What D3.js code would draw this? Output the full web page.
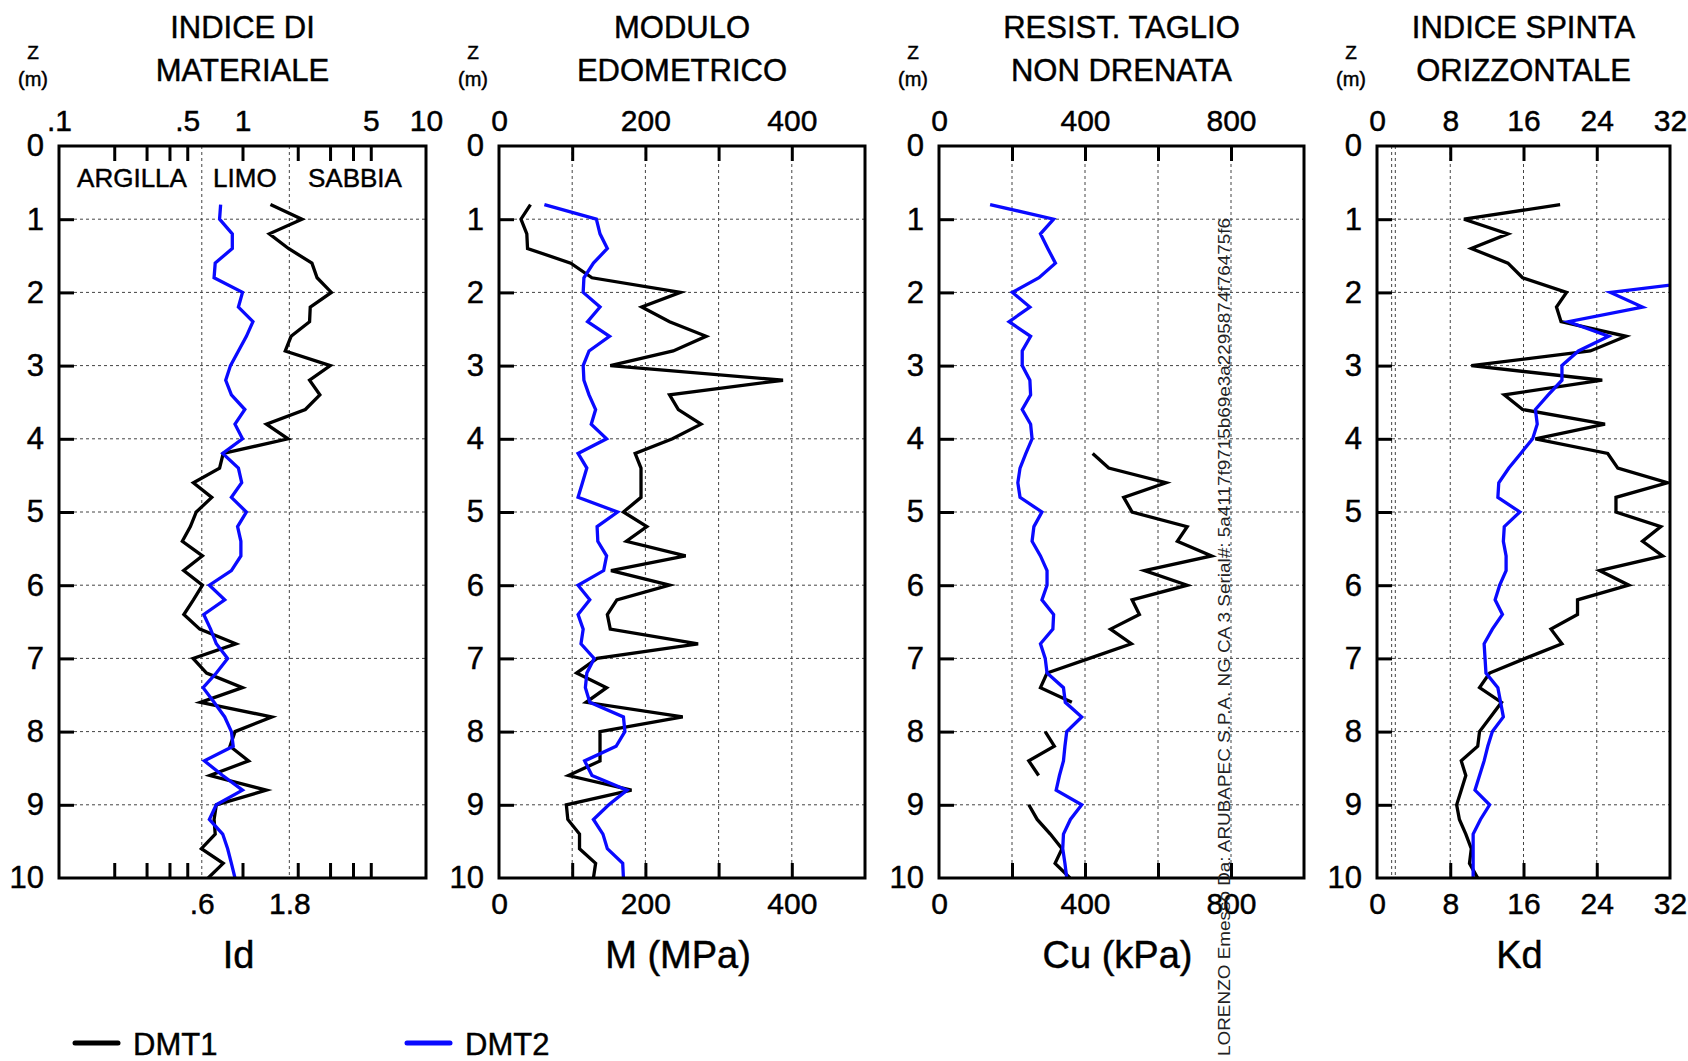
<!DOCTYPE html>
<html>
<head>
<meta charset="utf-8">
<script src="https://cdn.jsdelivr.net/npm/d3@7"></script>
<style>
  body { margin: 0; background: #fff; }
  svg { display: block; font-family: "Liberation Sans", Arial, sans-serif; }
  text { fill: #000; stroke: #000; stroke-width: 0.45px; }
  .grid { stroke: #444; stroke-width: 1; stroke-dasharray: 3 3; }
  .ticks line { stroke: #000; stroke-width: 3; }
</style>
</head>
<body>
<svg width="1688" height="1061"></svg>
<script>
// depth of each DMT reading (m)
const depth = [0.8, 1.0, 1.2, 1.4, 1.6, 1.8, 2.0, 2.2, 2.4, 2.6, 2.8, 3.0, 3.2, 3.4, 3.6, 3.8,
  4.0, 4.2, 4.4, 4.6, 4.8, 5.0, 5.2, 5.4, 5.6, 5.8, 6.0, 6.2, 6.4, 6.6, 6.8, 7.0, 7.2, 7.4,
  7.6, 7.8, 8.0, 8.2, 8.4, 8.6, 8.8, 9.0, 9.2, 9.4, 9.6, 9.8, 10.0];

// Id - indice di materiale
const idDmt1 = [1.42, 2.11, 1.40, 1.78, 2.39, 2.55, 3.05, 2.34, 2.32, 1.84, 1.71, 3.01, 2.32, 2.64, 2.20, 1.35,
  1.77, 0.785, 0.75, 0.54, 0.68, 0.56, 0.52, 0.47, 0.605, 0.478, 0.605, 0.54, 0.479, 0.585, 0.92, 0.538, 0.637, 1.0,
  0.59, 1.445, 0.91, 0.855, 1.08, 0.664, 1.35, 0.72, 0.70, 0.71, 0.597, 0.785, 0.65];
const idDmt2 = [0.76, 0.75, 0.88, 0.88, 0.71, 0.70, 1.0, 0.95, 1.14, 1.05, 0.95, 0.86, 0.81, 0.87, 1.03, 0.91,
  1.0, 0.78, 0.95, 0.99, 0.87, 1.05, 0.94, 0.98, 0.98, 0.87, 0.66, 0.80, 0.615, 0.67, 0.72, 0.83, 0.72, 0.61,
  0.70, 0.80, 0.87, 0.89, 0.62, 0.78, 1.0, 0.72, 0.66, 0.78, 0.83, 0.87, 0.91];

// M - modulo edometrico (MPa)
const mDmt1 = [43, 30, 38, 39, 98, 127, 248, 195, 233, 283, 238, 152, 388, 233, 245, 276,
  237, 186, 194, 194, 194, 170, 202, 174, 255, 153, 233, 161, 148, 152, 272, 134, 106, 147,
  119, 251, 138, 138, 138, 95, 181, 92, 94, 110, 110, 132, 129];
const mDmt2 = [62, 133, 138, 148, 129, 116, 115, 138, 121, 151, 123, 115, 116, 123, 132, 126,
  147, 108, 120, 114, 108, 162, 134, 135, 147, 143, 108, 124, 108, 115, 112, 130, 120, 118,
  124, 170, 172, 160, 117, 127, 175, 150, 129, 142, 148, 169, 170];

// Cu - resistenza al taglio non drenata (kPa), null = no value
const cuDmt1 = [null, null, null, null, null, null, null, null, null, null, null, null, null, null, null, null,
  null, 421, 465, 622, 506, 529, 680, 653, 747, 563, 680, 529, 549, 470, 527, 412, 296, 278,
  364, null, 291, 316, 246, 273, null, 246, 269, 305, 337, 318, 359];
const cuDmt2 = [140, 314, 278, 298, 319, 274, 201, 249, 192, 251, 228, 228, 249, 251, 228, 251,
  255, 238, 222, 216, 222, 282, 260, 255, 278, 296, 296, 282, 314, 312, 278, 291, 296, 341,
  346, 391, 350, 345, 341, 330, 321, 391, 360, 341, 339, 345, 350];

// Kd - indice di spinta orizzontale
const kdDmt1 = [20.0, 9.5, 14.3, 10.3, 14.3, 15.9, 20.7, 19.6, 20.1, 27.2, 23.3, 10.3, 24.6, 13.9, 15.9, 24.9,
  17.3, 25.2, 26.3, 31.7, 26.1, 26.1, 31.0, 29.0, 31.2, 24.3, 27.5, 21.9, 21.9, 19.0, 20.2, 16.2, 12.3, 11.2,
  13.6, 12.4, 11.2, 11.0, 9.2, 9.7, 9.2, 8.7, 9.0, 9.7, 10.3, 10.1, 11.0];
const kdDmt2 = [null, null, null, null, null, 38.5, 25.5, 29.0, 20.9, 25.3, 22.0, 20.2, 20.2, 18.7, 17.3, 17.5,
  17.0, 15.7, 14.4, 13.3, 13.2, 15.6, 13.9, 13.8, 14.1, 14.1, 13.4, 12.9, 13.7, 12.6, 11.7, 11.8, 11.9, 13.2,
  13.5, 13.8, 12.6, 12.1, 11.7, 11.2, 10.7, 12.3, 11.3, 10.5, 10.5, 10.5, 10.5];

// axis ticks / labels
const depthLabels = [0, 1, 2, 3, 4, 5, 6, 7, 8, 9, 10];
const depthGrid = [1, 2, 3, 4, 5, 6, 7, 8, 9];
const idTicks = [0.2, 0.3, 0.4, 0.5, 1, 2, 3, 4, 5];
const idTopLabels = [0.1, 0.5, 1, 5, 10];
const idBottomLabels = [0.6, 1.8];
const idGrid = [0.6, 1.8];
const soilLabels = [{ text: 'ARGILLA', v: 0.25 }, { text: 'LIMO', v: 1.03 }, { text: 'SABBIA', v: 4.1 }];
const mTicks = [100, 200, 300, 400];
const mLabels = [0, 200, 400];
const cuTicks = [200, 400, 600, 800];
const cuLabels = [0, 400, 800];
const kdTicks = [8, 16, 24];
const kdLabels = [0, 8, 16, 24, 32];
const kdGrid = [1.6, 2.0, 8, 16, 24];

const seriesNames = ['DMT1', 'DMT2'];
const seriesColors = ['#000000', '#0a0aff'];

const fmtDec = d => (d < 1 ? String(d).slice(1) : String(d));

const panels = [
  { title: ['INDICE DI', 'MATERIALE'], unit: 'Id', left: 59, right: 426, log: true, domain: [0.1, 10],
    ticks: idTicks, topLabels: idTopLabels, bottomLabels: idBottomLabels, grid: idGrid, fmt: fmtDec,
    series: [idDmt1, idDmt2] },
  { title: ['MODULO', 'EDOMETRICO'], unit: 'M (MPa)', left: 499, right: 865, domain: [0, 500],
    ticks: mTicks, topLabels: mLabels, bottomLabels: mLabels, grid: mTicks, series: [mDmt1, mDmt2] },
  { title: ['RESIST. TAGLIO', 'NON DRENATA'], unit: 'Cu (kPa)', left: 939, right: 1304, domain: [0, 1000],
    ticks: cuTicks, topLabels: cuLabels, bottomLabels: cuLabels, grid: cuTicks, series: [cuDmt1, cuDmt2] },
  { title: ['INDICE SPINTA', 'ORIZZONTALE'], unit: 'Kd', left: 1377, right: 1670, domain: [0, 32],
    ticks: kdTicks, topLabels: kdLabels, bottomLabels: kdLabels, grid: kdGrid, series: [kdDmt1, kdDmt2] }
];

const plotTop = 146, plotBottom = 878;
const svg = d3.select('svg');
const y = d3.scaleLinear().domain([0, 10]).range([plotTop, plotBottom]);

function styleAxis(sel, size) {
  sel.attr('font-family', null).attr('font-size', size);
  sel.select('.domain').remove();
}

panels.forEach((p, pi) => {
  const x = (p.log ? d3.scaleLog() : d3.scaleLinear()).domain(p.domain).range([p.left, p.right]);
  const g = svg.append('g');
  const cx = (p.left + p.right) / 2;

  g.selectAll('.ptitle').data(p.title).join('text')
    .attr('x', cx).attr('y', (d, i) => 38 + i * 43)
    .attr('text-anchor', 'middle').attr('font-size', 31)
    .text(d => d);

  g.append('text').attr('x', p.left - 26).attr('y', 59)
    .attr('text-anchor', 'middle').attr('font-size', 19).text('Z');
  g.append('text').attr('x', p.left - 26).attr('y', 86)
    .attr('text-anchor', 'middle').attr('font-size', 20).text('(m)');

  // grid
  g.selectAll('.hgrid').data(depthGrid).join('line').attr('class', 'grid')
    .attr('x1', p.left + 15).attr('x2', p.right)
    .attr('y1', d => y(d)).attr('y2', d => y(d));
  g.selectAll('.vgrid').data(p.grid).join('line').attr('class', 'grid')
    .attr('x1', d => x(d)).attr('x2', d => x(d))
    .attr('y1', plotTop).attr('y2', plotBottom);

  // data
  const clipId = 'clip' + pi;
  svg.append('clipPath').attr('id', clipId).append('rect')
    .attr('x', p.left).attr('y', plotTop)
    .attr('width', p.right - p.left).attr('height', plotBottom - plotTop);

  const line = d3.line()
    .defined(d => d[0] != null)
    .x(d => x(d[0]))
    .y(d => y(d[1]));

  g.append('g').attr('clip-path', `url(#${clipId})`)
    .selectAll('path').data(p.series).join('path')
    .attr('d', s => line(s.map((v, i) => [v, depth[i]])))
    .attr('fill', 'none')
    .attr('stroke', (s, i) => seriesColors[i])
    .attr('stroke-width', 3.3)
    .attr('stroke-linejoin', 'miter');

  // ticks inside box
  g.append('g').attr('class', 'ticks').attr('transform', `translate(0,${plotTop})`)
    .call(d3.axisBottom(x).tickValues(p.ticks).tickSize(15).tickFormat(''))
    .call(styleAxis, 30);
  g.append('g').attr('class', 'ticks').attr('transform', `translate(0,${plotBottom})`)
    .call(d3.axisTop(x).tickValues(p.ticks).tickSize(15).tickFormat(''))
    .call(styleAxis, 30);
  g.append('g').attr('class', 'ticks').attr('transform', `translate(${p.left},0)`)
    .call(d3.axisRight(y).tickValues(depthGrid).tickSize(15).tickFormat(''))
    .call(styleAxis, 30);

  // labels
  g.append('g').attr('transform', `translate(0,${plotTop})`)
    .call(d3.axisTop(x).tickValues(p.topLabels).tickSize(0).tickPadding(15).tickFormat(p.fmt || String))
    .call(styleAxis, 30);
  g.append('g').attr('transform', `translate(0,${plotBottom})`)
    .call(d3.axisBottom(x).tickValues(p.bottomLabels).tickSize(0).tickPadding(15).tickFormat(p.fmt || String))
    .call(styleAxis, 30);
  g.append('g').attr('transform', `translate(${p.left},0)`)
    .call(d3.axisLeft(y).tickValues(depthLabels).tickSize(0).tickPadding(15))
    .call(styleAxis, 31);

  // box
  g.append('rect')
    .attr('x', p.left).attr('y', plotTop)
    .attr('width', p.right - p.left).attr('height', plotBottom - plotTop)
    .attr('fill', 'none').attr('stroke', '#000').attr('stroke-width', 3);

  g.append('text').attr('x', cx - 4).attr('y', 968)
    .attr('text-anchor', 'middle').attr('font-size', 38).text(p.unit);

  if (p.log) {
    g.selectAll('.soil').data(soilLabels).join('text')
      .attr('x', d => x(d.v)).attr('y', 187)
      .attr('text-anchor', 'middle').attr('font-size', 26)
      .text(d => d.text);
  }
});

// legend
const legend = svg.append('g').selectAll('g').data(seriesNames).join('g')
  .attr('transform', (d, i) => `translate(${75 + i * 332},1043)`);
legend.append('line').attr('x1', 0).attr('x2', 43)
  .attr('stroke', (d, i) => seriesColors[i]).attr('stroke-width', 5).attr('stroke-linecap', 'round');
legend.append('text').attr('x', 58).attr('y', 12).attr('font-size', 31).text(d => d);

// watermark
svg.append('text')
  .attr('transform', 'translate(1230,1056) rotate(-90)')
  .attr('font-size', 17).style('fill', '#222').style('stroke', 'none')
  .attr('textLength', 838).attr('lengthAdjust', 'spacingAndGlyphs')
  .text('LORENZO Emesso Da: ARUBAPEC S.P.A. NG CA 3 Serial#: 5a4117f9715b69e3a2295874f76475f6');
</script>
</body>
</html>
